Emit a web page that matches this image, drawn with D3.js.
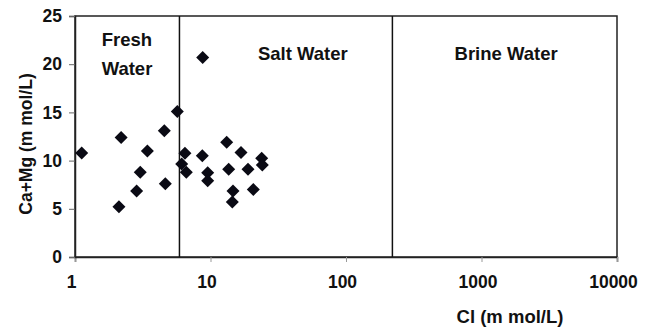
<!DOCTYPE html>
<html>
<head>
<meta charset="utf-8">
<script src="https://cdn.jsdelivr.net/npm/d3@7"></script>
<style>
  body { margin: 0; background: #fff; }
  svg text { font-family: "Liberation Sans", Arial, sans-serif; font-weight: bold; fill: #111; }
</style>
</head>
<body>
<svg id="chart"></svg>
<script>
// Cl (m mol/L) for each sample
const clValues = [1.12, 2.19, 2.11, 3.42, 3.03, 2.85, 4.56, 4.64, 5.69, 6.48, 6.13, 6.63,
  8.70, 9.53, 9.53, 13.17, 16.80, 13.62, 18.92, 14.66, 14.49, 20.70, 23.87, 24.12, 8.76];
// Ca+Mg (m mol/L) for each sample
const caMgValues = [10.8, 12.4, 5.2, 11.0, 8.8, 6.85, 13.1, 7.6, 15.1, 10.75, 9.65, 8.8,
  10.5, 8.75, 7.9, 11.9, 10.85, 9.1, 9.1, 6.85, 5.7, 7.0, 10.25, 9.55, 20.7];

const xTicks = [1, 10, 100, 1000, 10000];
const yTicks = [0, 5, 10, 15, 20, 25];

// zone boundaries on the Cl axis
const boundaries = [5.9, 220];
const zoneLabels = [
  { lines: ['Fresh', 'Water'], x: 2.42 },
  { lines: ['Salt Water'], x: 48 },
  { lines: ['Brine Water'], x: 1520 }
];

const width = 655, height = 328;
const margin = { top: 16, right: 38, bottom: 71, left: 75 };

const svg = d3.select('#chart')
  .attr('width', width)
  .attr('height', height);

const x = d3.scaleLog()
  .domain([1, 10000])
  .range([margin.left, width - margin.right]);

const y = d3.scaleLinear()
  .domain([0, 25])
  .range([height - margin.bottom, margin.top]);

// plot frame
svg.append('rect')
  .attr('x', x(1))
  .attr('y', y(25))
  .attr('width', x(10000) - x(1))
  .attr('height', y(0) - y(25))
  .attr('fill', 'none')
  .attr('stroke', '#222')
  .attr('stroke-width', 1.5);

// x axis
const xAxis = svg.append('g')
  .attr('transform', `translate(0,${y(0)})`)
  .call(d3.axisBottom(x).tickValues(xTicks).tickFormat(d3.format('d')).tickSize(5).tickPadding(14));
xAxis.select('.domain').attr('stroke', '#222').attr('stroke-width', 1.5);
xAxis.selectAll('.tick line').attr('stroke', '#999');
xAxis.selectAll('text').style('font-size', '17.5px').attr('dx', -4);

// y axis
const yAxis = svg.append('g')
  .attr('transform', `translate(${x(1)},0)`)
  .call(d3.axisLeft(y).tickValues(yTicks).tickSize(6).tickPadding(7));
yAxis.select('.domain').attr('stroke', '#222').attr('stroke-width', 1.5);
yAxis.selectAll('.tick line').attr('stroke', '#666');
yAxis.selectAll('text').style('font-size', '17.5px');

// zone boundary lines
svg.selectAll('.boundary')
  .data(boundaries)
  .enter()
  .append('line')
  .attr('class', 'boundary')
  .attr('x1', d => x(d))
  .attr('x2', d => x(d))
  .attr('y1', y(25))
  .attr('y2', y(0))
  .attr('stroke', '#111')
  .attr('stroke-width', 1.5);

// zone labels
zoneLabels.forEach(z => {
  const t = svg.append('text')
    .attr('text-anchor', 'middle')
    .attr('x', x(z.x))
    .attr('y', 46)
    .style('font-size', '18.5px');
  z.lines.forEach((line, i) => {
    t.append('tspan')
      .attr('x', x(z.x))
      .attr('dy', i === 0 ? (z.lines.length > 1 ? 0 : 14) : 29)
      .text(line);
  });
});

// points
const diamond = 6.5;
svg.selectAll('.pt')
  .data(clValues.map((c, i) => [c, caMgValues[i]]))
  .enter()
  .append('path')
  .attr('class', 'pt')
  .attr('d', d => {
    const cx = x(d[0]), cy = y(d[1]);
    return `M${cx},${cy - diamond}L${cx + diamond},${cy}L${cx},${cy + diamond}L${cx - diamond},${cy}Z`;
  })
  .attr('fill', '#0a0a14');

// axis titles
svg.append('text')
  .attr('x', 510)
  .attr('y', 323)
  .attr('text-anchor', 'middle')
  .style('font-size', '18.5px')
  .text('Cl (m mol/L)');

svg.append('text')
  .attr('transform', 'translate(32,144) rotate(-90)')
  .attr('text-anchor', 'middle')
  .style('font-size', '17.5px')
  .text('Ca+Mg (m mol/L)');
</script>
</body>
</html>
